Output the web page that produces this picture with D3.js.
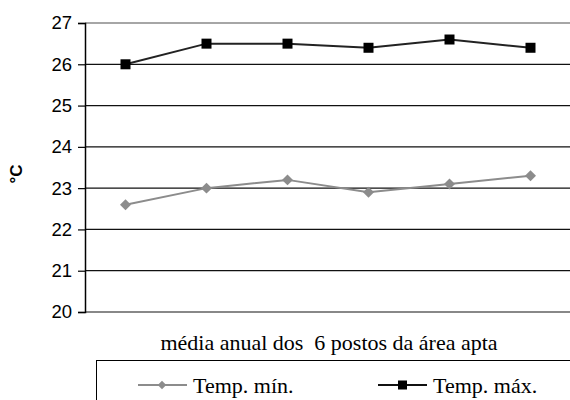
<!DOCTYPE html>
<html><head><meta charset="utf-8">
<script src="https://cdn.jsdelivr.net/npm/d3@7"></script>
<style>body{margin:0;background:#fff}svg{display:block}.serif{font-family:'Liberation Serif','Times New Roman','DejaVu Serif',serif}</style>
</head><body>
<script>
const categories = ["1","2","3","4","5","6"];
const tempMin = [22.6, 23.0, 23.2, 22.9, 23.1, 23.3];
const tempMax = [26.0, 26.5, 26.5, 26.4, 26.6, 26.4];
const yTicks = [20,21,22,23,24,25,26,27];
const seriesNames = ["Temp. mín.", "Temp. máx."];
const xLabel = "média anual dos  6 postos da área apta";
const yLabel = "°C";

(function(){
const W=570,H=400;
const svg=d3.select("body").append("svg").attr("width",W).attr("height",H);
const pLeft=85,pRight=571,pTop=23,pBottom=312;
const x=d3.scaleBand().domain(categories).range([pLeft,pRight]);
const y=d3.scaleLinear().domain([20,27]).range([pBottom,pTop]);

svg.append("g").selectAll("line").data(yTicks.filter(t=>t>20&&t<27)).join("line")
 .attr("x1",pLeft).attr("x2",W).attr("y1",d=>y(d)).attr("y2",d=>y(d))
 .attr("stroke","#111").attr("stroke-width",1.2);
svg.append("line").attr("x1",pLeft).attr("x2",W).attr("y1",y(27)).attr("y2",y(27)).attr("stroke","#888").attr("stroke-width",1.5);
svg.append("line").attr("x1",pLeft).attr("x2",W).attr("y1",y(20)).attr("y2",y(20)).attr("stroke","#888").attr("stroke-width",2);

const ya=svg.append("g").attr("transform",`translate(${pLeft},0)`)
 .call(d3.axisLeft(y).tickValues(yTicks).tickSize(7).tickPadding(6).tickFormat(d3.format("d")));
ya.select(".domain").attr("stroke","#000").attr("stroke-width",1.5);
ya.selectAll(".tick line").attr("stroke","#000").attr("stroke-width",1.2);
ya.selectAll(".tick text").attr("font-family","'Liberation Sans', Arial, sans-serif").attr("font-size",18.5).attr("fill","#000");

const cx=d=>x(d)+x.bandwidth()/2;
const line=d3.line().x((d,i)=>cx(categories[i])).y(d=>y(d));

svg.append("path").datum(tempMin).attr("d",line).attr("fill","none").attr("stroke","#8c8c8c").attr("stroke-width",2);
svg.append("path").datum(tempMax).attr("d",line).attr("fill","none").attr("stroke","#222").attr("stroke-width",2);

const diamond=d3.symbol().type(d3.symbolSquare).size(60);
svg.append("g").selectAll("path").data(tempMin).join("path")
 .attr("d",diamond()).attr("transform",(d,i)=>`translate(${cx(categories[i])},${y(d)}) rotate(45)`).attr("fill","#8c8c8c");
svg.append("g").selectAll("rect").data(tempMax).join("rect")
 .attr("x",(d,i)=>cx(categories[i])-5).attr("y",d=>y(d)-5).attr("width",10).attr("height",10).attr("fill","#000");

svg.append("text").attr("transform","translate(22,174) rotate(-90)").attr("text-anchor","middle")
 .attr("font-family","'Liberation Sans', Arial, sans-serif").attr("font-size",17).attr("font-weight","bold").text(yLabel);

svg.append("text").attr("class","serif").attr("x",329).attr("y",350).attr("text-anchor","middle").style("white-space","pre")
 .attr("font-size",22).text(xLabel);

svg.append("rect").attr("x",96.5).attr("y",360.5).attr("width",500).attr("height",60).attr("fill","none").attr("stroke","#000").attr("stroke-width",1);
const lg=[{x:138,color:"#8c8c8c",mark:"diamond",name:seriesNames[0]},{x:378,color:"#111",mark:"square",name:seriesNames[1]}];
lg.forEach(l=>{
 const ly=385;
 svg.append("line").attr("x1",l.x).attr("x2",l.x+49).attr("y1",ly).attr("y2",ly).attr("stroke",l.color).attr("stroke-width",2);
 if(l.mark==="diamond") svg.append("path").attr("d",d3.symbol().type(d3.symbolSquare).size(36)()).attr("transform",`translate(${l.x+24},${ly}) rotate(45)`).attr("fill",l.color);
 else svg.append("rect").attr("x",l.x+20).attr("y",ly-4.5).attr("width",9).attr("height",9).attr("fill","#000");
 svg.append("text").attr("class","serif").attr("x",l.x+55).attr("y",ly+8).attr("font-size",22).text(l.name);
});
})();
</script>
</body></html>
